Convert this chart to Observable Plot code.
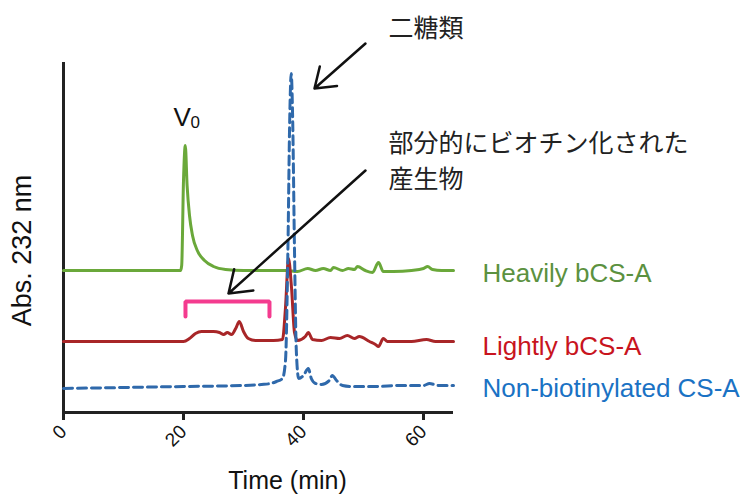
<!DOCTYPE html>
<html>
<head>
<meta charset="utf-8">
<script src="https://cdn.jsdelivr.net/npm/d3@7"></script>
<script src="https://cdn.jsdelivr.net/npm/@observablehq/plot@0.6"></script>
<style>
  html, body { margin: 0; padding: 0; background: #fff; }
</style>
</head>
<body>
<div id="chart"></div>
<script>
// ---- data (time in min, absorbance in arbitrary units; traces offset vertically) ----
const heavyTime = [0, 19.5, 19.7, 20.0, 20.3, 20.6, 21.0, 21.5, 22.3, 23.5, 25, 27, 30, 37, 39, 40.7, 42, 43.3, 44.5, 45, 46.5, 47.5, 48.5, 49, 50.3, 51.5, 52.5, 53.3, 55, 58, 60, 60.7, 61.5, 63, 65];
const heavyAbs  = [142, 142, 147, 232, 267, 227, 197, 177, 162, 152, 146, 143, 142, 142, 141, 144, 142, 144, 142, 145, 142, 144, 143, 146, 142, 140, 150, 141, 141, 142, 144, 146, 143, 142, 142];

const lightTime = [0, 20, 21, 22, 23, 25, 26, 26.7, 27.3, 28, 28.7, 29.3, 30, 30.8, 32, 35, 36.5, 37.0, 37.5, 38.0, 38.5, 39.0, 40.3, 40.8, 41.5, 43, 44.5, 46, 47.3, 48.5, 49.3, 51, 52, 52.5, 53.3, 54, 58, 60.5, 62, 65];
const lightAbs  = [71, 71, 74, 79, 81, 81, 80, 78, 80, 78, 84, 91, 81, 74, 72, 72, 73, 105, 154, 125, 80, 72, 76, 80, 73, 72, 75, 74, 77, 74, 76, 71, 68, 66, 74, 71, 71, 73, 71, 71];

const nonTime = [0, 10, 20, 30, 33, 34.5, 35.5, 36.5, 37.0, 37.4, 37.7, 37.95, 38.2, 38.5, 38.8, 39.2, 40.0, 40.8, 41.3, 42, 43, 44.3, 44.8, 45.5, 46.5, 48, 52, 56, 60, 61, 62.5, 65];
const nonAbs  = [24, 25, 26, 27, 28, 29, 31, 34, 52, 162, 292, 339, 292, 162, 62, 34, 37, 44, 34, 29, 28, 32, 37, 32, 27, 26, 26, 27, 27, 29, 27, 27];

const seriesNames = ["Heavily bCS-A", "Lightly bCS-A", "Non-biotinylated CS-A"];
const xTicks = [0, 20, 40, 60];
const bracketTime = [20.33, 20.33, 34.33, 34.33];
const bracketAbs = [96, 111, 111, 96];

// ---- build tables ----
const heavy = heavyTime.map((t, i) => ({t, a: heavyAbs[i]}));
const light = lightTime.map((t, i) => ({t, a: lightAbs[i]}));
const non = nonTime.map((t, i) => ({t, a: nonAbs[i]}));
const bracket = bracketTime.map((t, i) => ({t, a: bracketAbs[i]}));

const legend = [
  {name: seriesNames[0], t: 69.83, a: 139, color: "#5b9140"},
  {name: seriesNames[1], t: 69.83, a: 66, color: "#c8141e"},
  {name: seriesNames[2], t: 69.83, a: 24, color: "#1a72c4"}
];
const jpNotes = [
  {label: "二糖類", t: 54.17, a: 387},
  {label: "部分的にビオチン化された\n産生物", t: 54.17, a: 254}
];
const arrows = [
  {x1: 50.33, y1: 369, x2: 41.83, y2: 324},
  {x1: 50.33, y1: 242, x2: 27.5, y2: 119}
];

const latin = "'Liberation Sans', Arial, Helvetica, sans-serif";
const cjk = "'Noto Sans CJK JP', 'Noto Sans CJK SC', sans-serif";

const chart = Plot.plot({
  width: 753,
  height: 494,
  marginLeft: 63,
  marginRight: 300,
  marginTop: 62,
  marginBottom: 82,
  style: {fontFamily: latin, background: "#fff", overflow: "visible"},
  x: {domain: [0, 65]},
  y: {domain: [0, 350], axis: null},
  marks: [
    Plot.axisX({ticks: xTicks, tickSize: 8, strokeWidth: 3, stroke: "#222", tickRotate: -45, fontSize: 19, tickPadding: 8, label: null, fill: "#111"}),
    Plot.ruleY([0], {x1: 0, x2: 65, stroke: "#222", strokeWidth: 3}),
    Plot.ruleX([0], {y1: -1.5, y2: 350, stroke: "#222", strokeWidth: 3}),
    Plot.line(heavy, {x: "t", y: "a", stroke: "#6aa83a", strokeWidth: 3, curve: "monotone-x"}),
    Plot.line(light, {x: "t", y: "a", stroke: "#a82628", strokeWidth: 3, curve: "monotone-x"}),
    Plot.line(non, {x: "t", y: "a", stroke: "#2f69ab", strokeWidth: 3, strokeDasharray: "9,5", curve: "monotone-x"}),
    Plot.line(bracket, {x: "t", y: "a", stroke: "#f43b8f", strokeWidth: 4, strokeLinejoin: "miter"}),
    Plot.arrow(arrows, {x1: "x1", y1: "y1", x2: "x2", y2: "y2", stroke: "#111", strokeWidth: 2.5, headLength: 15, headAngle: 70}),
    Plot.text(legend, {x: "t", y: "a", text: "name", fill: "color", textAnchor: "start", fontSize: 26, clip: false}),
    Plot.text(jpNotes, {x: "t", y: "a", text: "label", fill: "#222", textAnchor: "start", fontSize: 25, lineHeight: 1.46, fontFamily: cjk}),
    Plot.text(["V"], {x: 18.33, y: 287, textAnchor: "start", lineAnchor: "bottom", fontSize: 26, fill: "#111"}),
    Plot.text(["0"], {x: 21.17, y: 285, textAnchor: "start", lineAnchor: "bottom", fontSize: 17, fill: "#111"}),
    Plot.text(["Abs. 232 nm"], {x: -6.83, y: 162, rotate: -90, fontSize: 27, fill: "#111"}),
    Plot.text(["Time (min)"], {x: 37.33, y: -76, lineAnchor: "bottom", fontSize: 25, fill: "#111"})
  ]
});
document.getElementById("chart").appendChild(chart);
</script>
</body>
</html>
